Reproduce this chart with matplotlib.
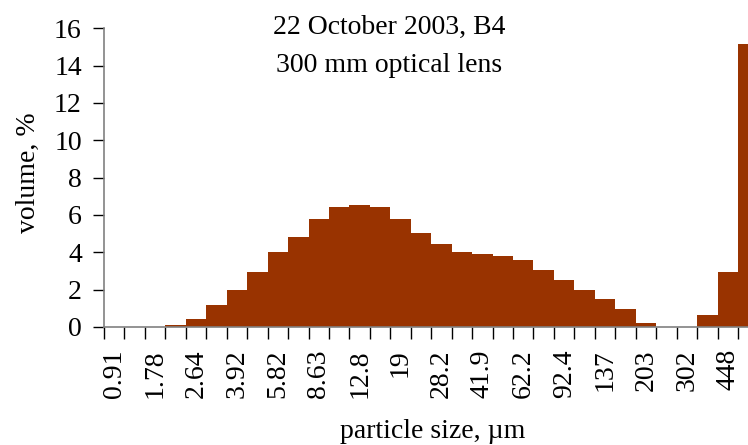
import matplotlib
matplotlib.use("Agg")
import matplotlib.pyplot as plt
import numpy as np

plt.rcParams["font.family"] = ["Liberation Serif", "DejaVu Serif"]

# Particle size bins (µm); only every other bin is labelled on the axis
size_labels = ["0.91", "1.78", "2.64", "3.92", "5.82", "8.63", "12.8", "19",
               "28.2", "41.9", "62.2", "92.4", "137", "203", "302", "448"]

# Volume fraction (%) in each of the 32 size bins
volume = [0.0, 0.0, 0.0, 0.1, 0.43, 1.2, 1.98, 2.95, 4.02, 4.82, 5.79, 6.43,
          6.54, 6.43, 5.79, 5.04, 4.45, 4.02, 3.91, 3.80, 3.59, 3.05, 2.52,
          1.98, 1.5, 0.96, 0.21, 0.0, 0.0, 0.64, 2.95, 15.16]

bar_color = "#993300"
axis_color = "#808080"

W, H = 748, 445
fig = plt.figure(figsize=(W / 100, H / 100), dpi=100)
ax = fig.add_axes([104 / W, (H - 327) / H, (W - 104) / W, (327 - 28.3) / H])

x = np.arange(len(volume))
ax.bar(x, volume, width=1.0, color=bar_color, edgecolor="none")

ax.set_xlim(-0.5, 30.99)
ax.set_ylim(0, 16)
ax.set_yticks(np.arange(0, 17, 2))

# Tick marks sit on bin boundaries, labels on every other bin centre
ax.set_xticks(np.arange(-0.5, 31, 1.0))
ax.set_xticklabels([])
ax.set_xticks(np.arange(0, 31, 2), minor=True)
ax.set_xticklabels(size_labels, minor=True, rotation=90, va="top", ha="center")
ax.tick_params(axis="x", which="major", length=8.5, width=1, color="black", direction="out")
ax.tick_params(axis="x", which="minor", length=0, pad=16, labelsize=20)
ax.tick_params(axis="y", length=8, width=1, color="black", labelsize=20, pad=8)

for side in ("top", "right"):
    ax.spines[side].set_visible(False)
for side in ("left", "bottom"):
    ax.spines[side].set_color(axis_color)
    ax.spines[side].set_linewidth(1.2)

fig.text(28 / W, 1 - 173 / H, "volume, %", fontsize=20, rotation=90,
         ha="center", va="center")
fig.text(433 / W, 1 - 438 / H, "particle size, µm", fontsize=20,
         ha="center", va="baseline")

fig.text(389 / W, 1 - 34 / H, "22 October 2003, B4", fontsize=20,
         ha="center", va="baseline")
fig.text(389 / W, 1 - 72 / H, "300 mm optical lens", fontsize=20,
         ha="center", va="baseline")

fig.savefig("out.png", dpi=100)
